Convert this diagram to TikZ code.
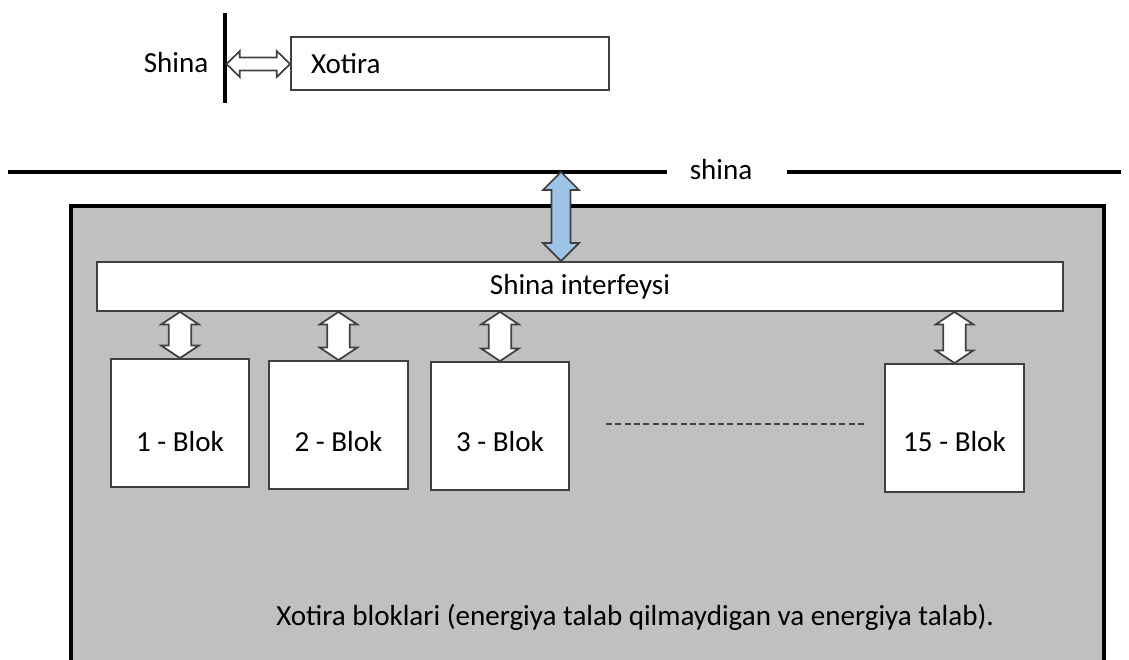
\documentclass[tikz,border=0pt]{standalone}
\usepackage{fontspec}
\setmainfont{Carlito}
\usetikzlibrary{calc}

\definecolor{panelgray}{HTML}{C0C0C0}
\definecolor{arrowblue}{HTML}{9DC3E6}
\definecolor{edgegray}{HTML}{404040}

% hollow double arrow, vertical: #2 top point, #3 bottom point,
% #4 half head width, #5 half shaft width, #6 head length
\newcommand{\dblarrowv}[6][]{%
  \draw[#1] let \p1=(#2), \p2=(#3) in
    (\x1,\y1) -- (\x1+#4,\y1-#6) -- (\x1+#5,\y1-#6) -- (\x1+#5,\y2+#6)
    -- (\x1+#4,\y2+#6) -- (\x1,\y2) -- (\x1-#4,\y2+#6) -- (\x1-#5,\y2+#6)
    -- (\x1-#5,\y1-#6) -- (\x1-#4,\y1-#6) -- cycle;}
% same thing lying down: #2 left point, #3 right point
\newcommand{\dblarrowh}[6][]{%
  \draw[#1] let \p1=(#2), \p2=(#3) in
    (\x1,\y1) -- (\x1+#6,\y1+#4) -- (\x1+#6,\y1+#5) -- (\x2-#6,\y1+#5)
    -- (\x2-#6,\y1+#4) -- (\x2,\y1) -- (\x2-#6,\y1-#4) -- (\x2-#6,\y1-#5)
    -- (\x1+#6,\y1-#5) -- (\x1+#6,\y1-#4) -- cycle;}

\begin{document}
\begin{tikzpicture}[x=0.75pt,y=-0.75pt,
        font=\fontsize{21.8pt}{26pt}\selectfont,
        box/.style={draw=edgegray,fill=white,line width=1.4pt,inner sep=0pt},
        blok/.style 2 args={box,minimum width=104pt,anchor=base,
          text height=#1,text depth=#2},
        busline/.style={line width=2.6pt},
        hollow/.style={draw=edgegray,fill=white,line width=1.3pt,line join=miter}]
        \clip (0,0) rectangle (1129,660);
        \useasboundingbox (0,0) rectangle (1129,660);

        % memory module on the bus
        \coordinate (topbusU) at (225,13);
        \coordinate (topbusD) at (225,103);
        \draw[busline] (topbusU) -- (topbusD);
        \node (lbl) at (176,63) {Shina};
        \node[box,minimum height=39.75pt,text width=208.5pt,inner xsep=15pt,
          align=left] (xotira) at (450,63.5) {Xotira};
        \dblarrowh[hollow]{$(topbusU)!0.567!(topbusD)+(1.5,0)$}{xotira.west}{9.75pt}{4.9pt}{10pt}

        % system bus
        \coordinate (busL) at (8,172);
        \coordinate (busR) at (1121,172);
        \node[inner xsep=0pt] (bus) at (721,170) {shina};
        \draw[busline] (busL) -- ([xshift=-16.5pt]bus.west |- busL);
        \draw[busline] ([xshift=25.5pt]bus.east |- busR) -- (busR);

        % memory unit
        \draw[line width=2.6pt,fill=panelgray] (71,206) rectangle (1104,720);
        \node[box,minimum width=724.5pt,minimum height=36.75pt] (iface) at (580,286.5) {Shina interfeysi};

        \coordinate (tap) at (561,172);
        \dblarrowv[hollow,fill=arrowblue]{tap}{tap |- iface.north}{13.5pt}{7.1pt}{13.5pt}

        % blocks, all labels on one baseline
        \node[blok={69pt}{27pt}] (b1) at (180,451) {1 - Blok};
        \node[blok={67.5pt}{28.5pt}] (b2) at (338.5,451) {2 - Blok};
        \node[blok={66.75pt}{29.25pt}] (b3) at (500,451) {3 - Blok};
        \node[blok={65.25pt}{30.75pt}] (b15) at (954.5,451) {15 - Blok};

        \foreach \b in {b1,b2,b3,b15}{
          \dblarrowv[hollow]{iface.south -| \b.north}{\b.north}{14.25pt}{8.5pt}{9.5pt}
        }

        \draw[edgegray,line width=0.8pt,dash pattern=on 4.5pt off 2.5pt] (606,424) -- (866,424);

        \node (note) at (635,617) {Xotira bloklari (energiya talab qilmaydigan va energiya talab).};
\end{tikzpicture}
\end{document}
